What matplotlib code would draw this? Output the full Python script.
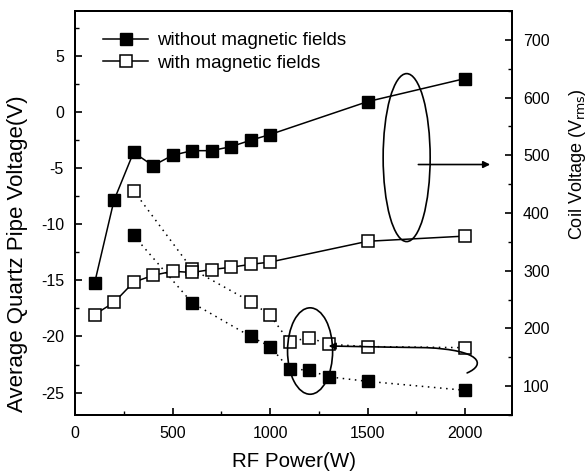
import matplotlib
matplotlib.use("Agg")
import matplotlib.pyplot as plt
from matplotlib.patches import Ellipse, FancyArrowPatch
from matplotlib.path import Path
from matplotlib.lines import Line2D
from matplotlib.ticker import MultipleLocator

plt.rcParams['font.family'] = ['Liberation Sans', 'DejaVu Sans']
plt.rcParams['axes.unicode_minus'] = False

# RF power (W)
power_coil = [100, 200, 300, 400, 500, 600, 700, 800, 900, 1000, 1500, 2000]
# Coil voltage (V_rms), right axis
coil_without = [278, 422, 505, 482, 500, 508, 508, 515, 526, 536, 593, 633]
coil_with = [224, 245, 280, 292, 299, 297, 302, 306, 311, 315, 351, 360]

power_pipe = [300, 600, 900, 1000, 1100, 1200, 1300, 1500, 2000]
# Average quartz pipe voltage (V), left axis
pipe_without = [-11.0, -17.0, -20.0, -20.9, -22.9, -23.0, -23.6, -24.0, -24.8]
pipe_with = [-7.0, -14.0, -16.9, -18.1, -20.5, -20.1, -20.7, -20.9, -21.0]

legend_labels = ["without magnetic fields", "with magnetic fields"]

fig = plt.figure(figsize=(5.87, 4.74), dpi=100)
ax = fig.add_axes([75/587, 1-415/474, 437/587, 404/474])
ax2 = ax.twinx()

ms = 8.5
ax.plot(power_pipe, pipe_without, ls=(0, (1, 3)), color='black', lw=1.1,
        marker='s', ms=ms, mfc='black', mec='black', zorder=3)
ax.plot(power_pipe, pipe_with, ls=(0, (1, 3)), color='black', lw=1.1,
        marker='s', ms=ms, mfc='white', mec='black', mew=1.1, zorder=3)
ax2.plot(power_coil, coil_without, ls='-', color='black', lw=1.1,
         marker='s', ms=ms, mfc='black', mec='black', zorder=3)
ax2.plot(power_coil, coil_with, ls='-', color='black', lw=1.1,
         marker='s', ms=ms, mfc='white', mec='black', mew=1.1, zorder=3)

ax.set_xlim(0, 2240)
ax.set_ylim(-27, 9)
ax2.set_ylim(50, 750)

ax.xaxis.set_major_locator(MultipleLocator(500))
ax.xaxis.set_minor_locator(MultipleLocator(250))
ax.yaxis.set_major_locator(MultipleLocator(5))
ax.yaxis.set_minor_locator(MultipleLocator(2.5))
ax2.yaxis.set_major_locator(MultipleLocator(100))
ax2.yaxis.set_minor_locator(MultipleLocator(50))

ax.tick_params(axis='both', which='major', direction='in', length=5, width=1.2,
               labelsize=11.5, pad=8, top=False, right=False)
ax.tick_params(axis='both', which='minor', direction='in', length=3, width=1.0,
               top=False, right=False)
ax2.tick_params(axis='y', which='major', direction='in', length=5, width=1.2,
                labelsize=11.5, pad=8)
ax2.tick_params(axis='y', which='minor', direction='in', length=3, width=1.0)
for a in (ax, ax2):
    for s in a.spines.values():
        s.set_linewidth(1.4)

ax.set_xlabel("RF Power(W)", fontsize=14.8, labelpad=8)
ax.set_ylabel("Average Quartz Pipe Voltage(V)", fontsize=16)
ax.yaxis.set_label_coords(-0.108, 0.40)
ax2.set_ylabel(r"Coil Voltage (V$_{\rm rms}$)", fontsize=13)
ax2.yaxis.set_label_coords(1.125, 0.62)

# annotations
e1 = Ellipse((1700, 496), 241, 291, fill=False, ec='black', lw=1.2, zorder=4)
ax2.add_patch(e1)
ax2.annotate("", xy=(2128, 484), xytext=(1760, 484),
             arrowprops=dict(arrowstyle='-|>', color='black', lw=1.2,
                             mutation_scale=10, shrinkA=0, shrinkB=0))
e2 = Ellipse((1205, -21.3), 231, 7.7, fill=False, ec='black', lw=1.2, zorder=4)
ax.add_patch(e2)
verts = [(2010, -23.25), (2110, -22.5), (2080, -21.2), (1800, -21.0),
         (1600, -20.95), (1450, -20.9), (1300, -20.85)]
codes = [Path.MOVETO, Path.CURVE4, Path.CURVE4, Path.CURVE4,
         Path.LINETO, Path.LINETO, Path.LINETO]
arr = FancyArrowPatch(path=Path(verts, codes), arrowstyle='-|>',
                      mutation_scale=10, color='black', lw=1.2,
                      transform=ax.transData, zorder=4)
ax.add_patch(arr)

handles = [Line2D([], [], color='black', lw=1.1, marker='s', ms=ms,
                  mfc='black', mec='black'),
           Line2D([], [], color='black', lw=1.1, marker='s', ms=ms,
                  mfc='white', mec='black', mew=1.1)]
ax.legend(handles, legend_labels, loc='upper left', bbox_to_anchor=(0.03, 0.985),
          frameon=False, fontsize=13.5, handlelength=2.4, handletextpad=0.45,
          labelspacing=0.3, borderpad=0.3)

fig.savefig("out.png", dpi=100)
